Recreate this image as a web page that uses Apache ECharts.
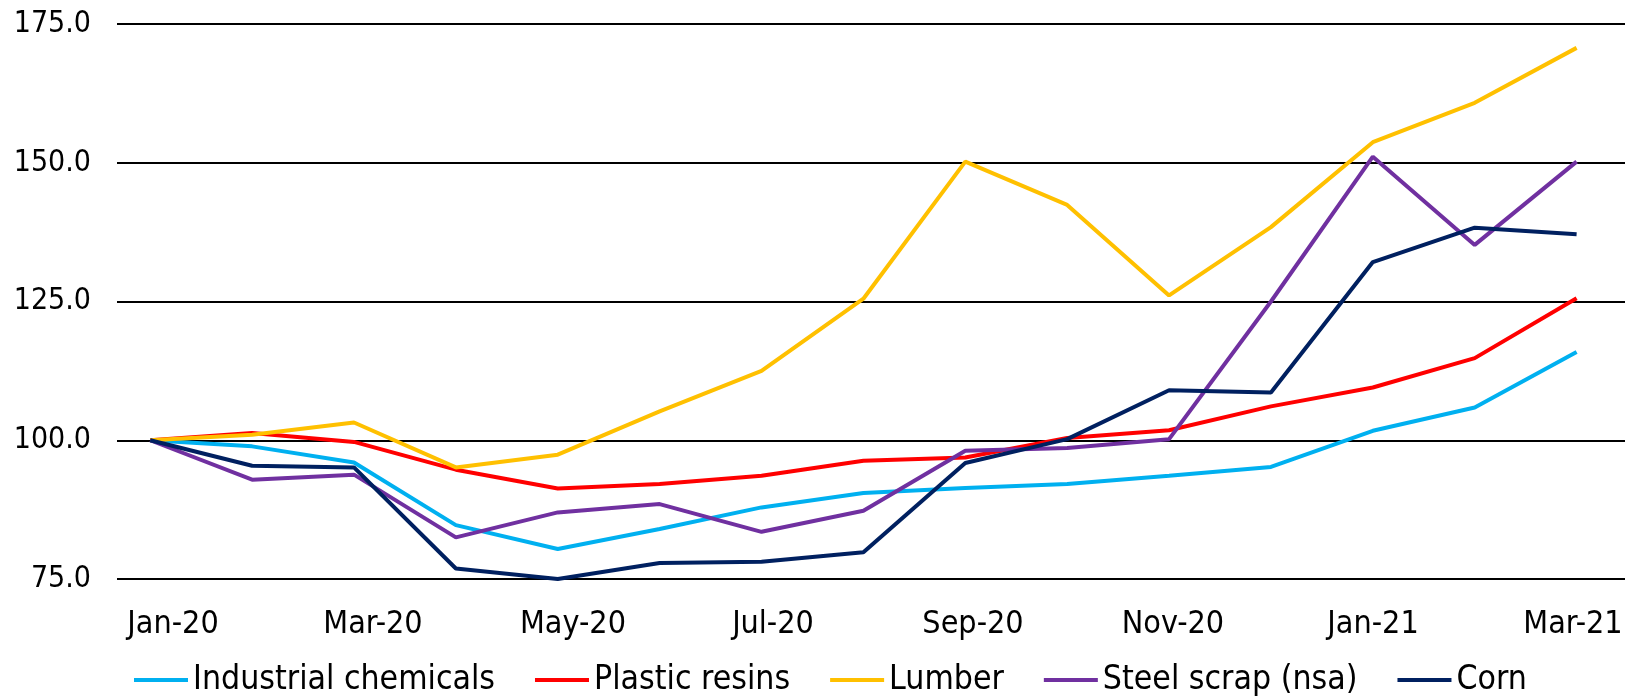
<!DOCTYPE html>
<html><head><meta charset="utf-8">
<script src="https://cdn.jsdelivr.net/npm/echarts@6/dist/echarts.min.js"></script>
<style>html,body{margin:0;padding:0;background:#fff}#c{width:1636px;height:697px}</style>
</head><body><div id="c"></div>
<script>
const months = ['Jan-20','Feb-20','Mar-20','Apr-20','May-20','Jun-20','Jul-20','Aug-20','Sep-20','Oct-20','Nov-20','Dec-20','Jan-21','Feb-21','Mar-21'];
const industrialChemicals = [100.0, 98.9, 96.0, 84.7, 80.4, 84.0, 87.9, 90.5, 91.4, 92.1, 93.6, 95.2, 101.7, 105.9, 115.9];
const plasticResins = [100.0, 101.3, 99.7, 94.7, 91.3, 92.1, 93.6, 96.3, 96.9, 100.4, 101.8, 106.1, 109.5, 114.8, 125.6];
const lumber = [100.0, 101.0, 103.2, 95.1, 97.4, 105.2, 112.5, 125.5, 150.2, 142.4, 126.1, 138.4, 153.7, 160.8, 170.7];
const steelScrap = [100.0, 92.9, 93.8, 82.5, 87.0, 88.5, 83.5, 87.3, 98.1, 98.6, 100.2, 125.0, 151.1, 135.2, 150.2];
const corn = [100.0, 95.4, 95.1, 76.9, 75.0, 77.9, 78.1, 79.8, 95.9, 100.2, 109.0, 108.6, 132.1, 138.3, 137.1];
const seriesNames = ['Industrial chemicals','Plastic resins','Lumber','Steel scrap (nsa)','Corn'];
const seriesColors = ['#00B0F0','#FF0000','#FFC000','#7030A0','#002060'];
const yTicks = [75, 100, 125, 150, 175];

const FONT = "'DejaVu Sans Condensed', 'DejaVu Sans', sans-serif";
const values = [industrialChemicals, plasticResins, lumber, steelScrap, corn];
const chart = echarts.init(document.getElementById('c'), null, {renderer:'canvas'});
chart.setOption({
  animation: false,
  backgroundColor: '#fff',
  textStyle: {fontFamily: FONT},
  grid: [
    {left: 117, right: 11, top: 24, bottom: 118},
    {left: 123, right: 13, top: 24, bottom: 118}
  ],
  xAxis: [
    {type: 'value', gridIndex: 0, min: -0.326, max: 14.475,
     axisLine: {show: false}, axisTick: {show: false}, axisLabel: {show: false}, splitLine: {show: false}},
    {type: 'category', gridIndex: 1, data: months, boundaryGap: true,
     axisLine: {show: false}, axisTick: {show: false}, splitLine: {show: false},
     axisLabel: {interval: 1, margin: 30, fontSize: 32, color: '#000', fontFamily: FONT}}
  ],
  yAxis: [
    {type: 'value', gridIndex: 0, min: yTicks[0], max: yTicks[yTicks.length-1], interval: 25,
     axisLine: {show: false}, axisTick: {show: false},
     axisLabel: {margin: 26, fontSize: 30, color: '#000', fontFamily: FONT, formatter: v => v.toFixed(1)},
     splitLine: {show: true, lineStyle: {color: '#000', width: 2}}},
    {type: 'value', gridIndex: 1, min: 75, max: 175, show: false}
  ],
  legend: {
    left: 129, bottom: -5, itemWidth: 54, itemHeight: 4, itemGap: 40, icon: 'rect',
    textStyle: {fontSize: 33.5, color: '#000', fontFamily: FONT},
    data: seriesNames
  },
  series: values.map((arr, k) => ({
    name: seriesNames[k], type: 'line', xAxisIndex: 0, yAxisIndex: 0,
    symbol: 'none', color: seriesColors[k],
    lineStyle: {width: 4, color: seriesColors[k]},
    data: arr.map((v, i) => [i, v])
  }))
});
</script></body></html>
